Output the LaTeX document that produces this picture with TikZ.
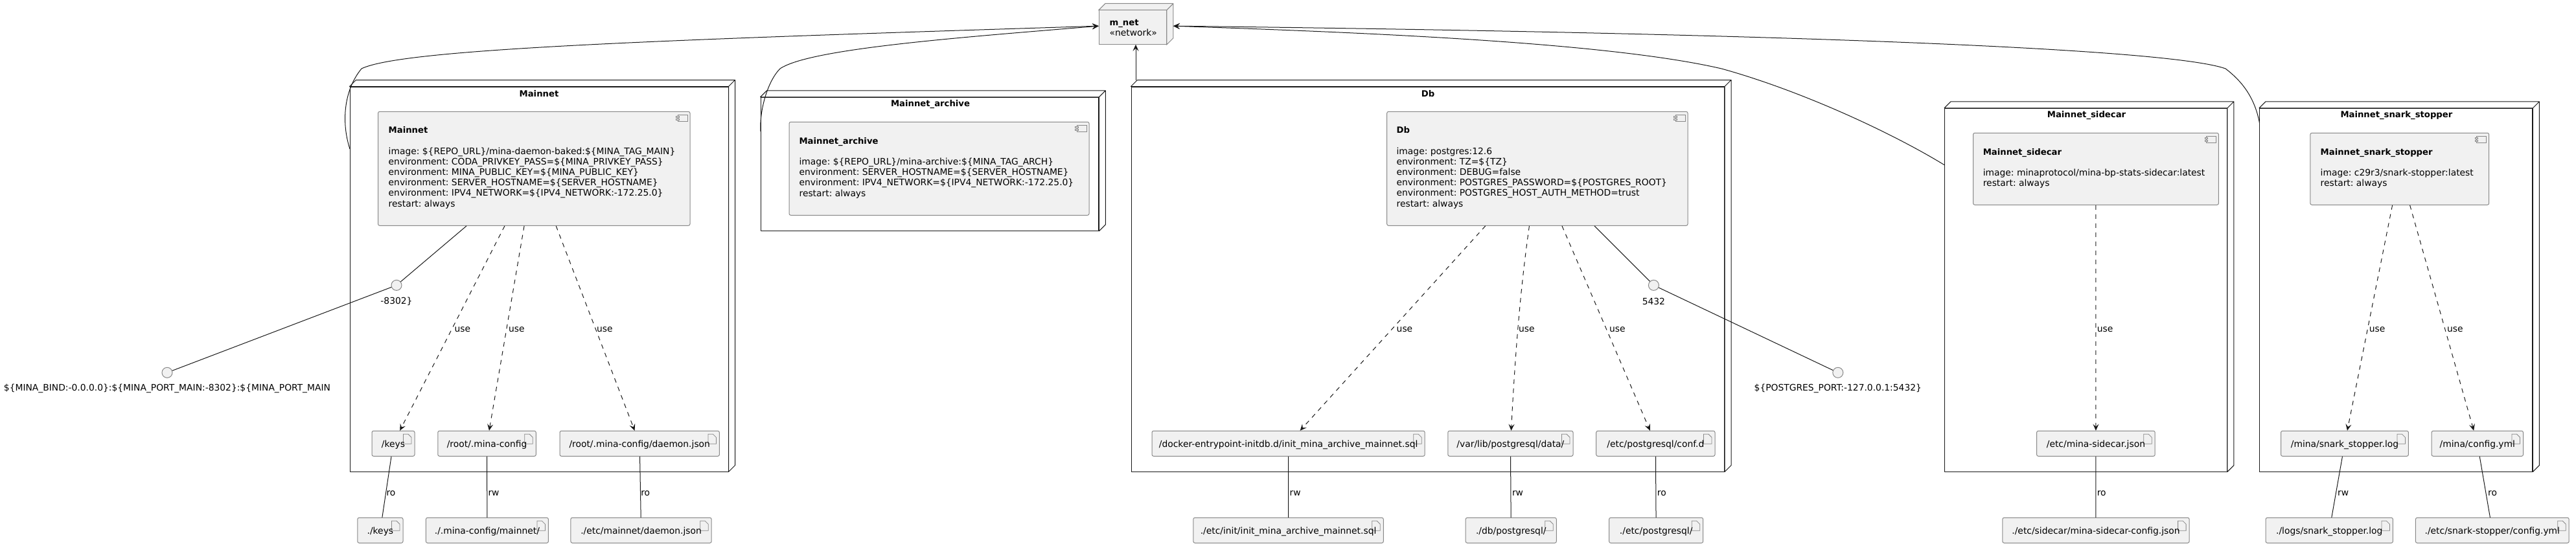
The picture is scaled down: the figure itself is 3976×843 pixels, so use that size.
\documentclass[tikz,border=0pt]{standalone}
\usepackage{fontspec}
\setmainfont{DejaVu Sans}
\usetikzlibrary{arrows.meta}

\definecolor{boxfill}{HTML}{F1F1F1}
\definecolor{linedark}{HTML}{181818}
\definecolor{linegray}{HTML}{888888}

\newcommand{\backedge}[2][white]{\draw[edgeline, fill=#1] (#2.north west) -- ++(10,-10) -- ([xshift=10pt,yshift=10pt]#2.north east) -- ([xshift=10pt,yshift=10pt]#2.south east) -- (#2.south east) -- (#2.north east) -- (#2.north west) -- cycle (#2.north east) -- ++(10,-10);}
\newcommand{\titlefont}{\fontsize{13.2}{16.2}\selectfont\bfseries}
\newcommand{\comphead}[1]{\strut{\titlefont #1}\\[16.2pt]}
\newcommand{\filetext}[1]{#1\hspace{11.6pt}}

\tikzset{
  textsize/.style={font=\fontsize{13.85}{16.2}\selectfont\frenchspacing},
  edgeline/.style={draw=linedark, line width=1pt, line join=round},
  boxnode/.style={edgeline, inner sep=0pt},
  nodetitle/.style={inner sep=0pt, font=\titlefont},
  compbox/.style={draw=linegray, line width=1pt, fill=boxfill, rounded corners=2.5pt, inner sep=0pt,
    path picture={\draw[draw=linegray, line width=0.8pt, sharp corners] ([xshift=-19pt,yshift=-5pt]path picture bounding box.north east) rectangle ++(15,10);
      \draw[draw=linegray, line width=0.8pt, fill=boxfill, sharp corners] ([xshift=-21.5pt,yshift=-7pt]path picture bounding box.north east) rectangle ++(4.5,2.5) ++(-4.5,1.5) rectangle ++(4.5,2.5);}},
  comptext/.style={textsize, inner sep=0pt, anchor=north west, align=left},
  filebox/.style={draw=linegray, line width=1pt, fill=boxfill, rounded corners=2.5pt, inner sep=0pt, minimum height=39pt, text height=12pt, text depth=0pt, textsize,
    path picture={\draw[draw=linegray, line width=0.8pt, sharp corners] ([xshift=-17.5pt,yshift=-5pt]path picture bounding box.north east) -- ++(7.5,0) -- ++(5,5) -- ++(0,10) -- ++(-12.5,0) -- cycle ++(7.5,0) -- ++(0,5) -- ++(5,0);}},
  portdot/.style={circle, draw=linegray, line width=1pt, fill=boxfill, minimum size=16pt, inner sep=0pt},
  plainlabel/.style={textsize, inner sep=0pt},
  linklabel/.style={plainlabel, anchor=west, text=black},
  link/.style={edgeline},
  uselink/.style={edgeline, dash pattern=on 7pt off 7pt, -{Stealth[length=10pt,width=9pt,inset=4pt]}},
  netlink/.style={edgeline, -{Stealth[length=10pt,width=9pt,inset=4pt]}}
}

\begin{document}
\begin{tikzpicture}[x=1pt,y=-1pt]
\useasboundingbox (0,0) rectangle (3976,843);

\node[draw=linegray, line width=1pt, fill=boxfill, inner sep=0pt, minimum width=104pt, minimum height=52.3pt] (mnet) at (1748.4,42.15) {};
\draw[draw=linegray, line width=1pt, fill=boxfill] (mnet.north west) -- ++(10,-10) -- ([xshift=10pt,yshift=10pt]mnet.north east) -- ([xshift=10pt,yshift=10pt]mnet.south east) -- (mnet.south east) -- (mnet.north east) -- (mnet.north west) -- cycle (mnet.north east) -- ++(10,-10);
\node[comptext] (mnettext) at (1712.4,27.7) {\strut{\titlefont m\_net}\\«network»};

\node[boxnode, minimum width=584pt, minimum height=594pt] (main) at (832,431) {};
\backedge{main}
\node[boxnode, minimum width=521.8pt, minimum height=206pt] (arch) at (1434.9,253.3) {};
\backedge{arch}
\node[boxnode, minimum width=915.5pt, minimum height=594pt] (db) at (2203.75,431) {};
\backedge{db}
\node[boxnode, minimum width=435.8pt, minimum height=560.7pt] (side) at (3219.5,447.65) {};
\backedge{side}
\node[boxnode, minimum width=421.4pt, minimum height=560.7pt] (stop) at (3698.2,447.65) {};
\backedge{stop}

\node[nodetitle] (maintitle) at (832,145) {Mainnet};
\node[nodetitle] (archtitle) at (1436,161) {Mainnet\_archive};
\node[nodetitle] (dbtitle) at (2204,145) {Db};
\node[nodetitle] (sidetitle) at (3220.5,178) {Mainnet\_sidecar};
\node[nodetitle] (stoptitle) at (3698.9,178) {Mainnet\_snark\_stopper};

\node[compbox, minimum width=481.5pt, minimum height=176pt] (maincomp) at (824.25,260.3) {};
\node[comptext] (maintext) at (599.5,194.2) {\comphead{Mainnet}image: \$\{REPO\_URL\}/mina-daemon-baked:\$\{MINA\_TAG\_MAIN\}\\environment: CODA\_PRIVKEY\_PASS=\$\{MINA\_PRIVKEY\_PASS\}\\environment: MINA\_PUBLIC\_KEY=\$\{MINA\_PUBLIC\_KEY\}\\environment: SERVER\_HOSTNAME=\$\{SERVER\_HOSTNAME\}\\environment: IPV4\_NETWORK=\$\{IPV4\_NETWORK:-172.25.0\}\\restart: always};
\node[compbox, minimum width=463pt, minimum height=144pt] (archcomp) at (1449.5,260.3) {};
\node[comptext] (archtext) at (1233.4,210.5) {\comphead{Mainnet\_archive}image: \$\{REPO\_URL\}/mina-archive:\$\{MINA\_TAG\_ARCH\}\\environment: SERVER\_HOSTNAME=\$\{SERVER\_HOSTNAME\}\\environment: IPV4\_NETWORK=\$\{IPV4\_NETWORK:-172.25.0\}\\restart: always};
\node[compbox, minimum width=464.3pt, minimum height=176pt] (dbcomp) at (2372.85,260.3) {};
\node[comptext] (dbtext) at (2155.4,194.2) {\comphead{Db}image: postgres:12.6\\environment: TZ=\$\{TZ\}\\environment: DEBUG=false\\environment: POSTGRES\_PASSWORD=\$\{POSTGRES\_ROOT\}\\environment: POSTGRES\_HOST\_AUTH\_METHOD=trust\\restart: always};
\node[compbox, minimum width=378.9pt, minimum height=111pt] (sidecomp) at (3234.95,260.8) {};
\node[comptext] (sidetext) at (3060.6,227.5) {\comphead{Mainnet\_sidecar}image: minaprotocol/mina-bp-stats-sidecar:latest\\restart: always};
\node[compbox, minimum width=275.9pt, minimum height=111pt] (stopcomp) at (3703.75,260.8) {};
\node[comptext] (stoptext) at (3581.5,227.5) {\comphead{Mainnet\_snark\_stopper}image: c29r3/snark-stopper:latest\\restart: always};

\node[filebox, minimum width=66pt] (keys) at (607,684.8) {\filetext{/keys}};
\node[filebox, minimum width=151.5pt] (rootcfg) at (751.55,684.8) {\filetext{/root/.mina-config}};
\node[filebox, minimum width=246.4pt] (rootjson) at (987.2,684.8) {\filetext{/root/.mina-config/daemon.json}};
\node[filebox, minimum width=70.2pt] (lockeys) at (586.9,818.8) {\filetext{./keys}};
\node[filebox, minimum width=189pt] (loccfg) at (751.9,818.8) {\filetext{./.mina-config/mainnet/}};
\node[filebox, minimum width=217.3pt] (locjson) at (989.55,818.8) {\filetext{./etc/mainnet/daemon.json}};

\node[filebox, minimum width=421.2pt] (dbinit) at (1988.6,684.8) {\filetext{/docker-entrypoint-initdb.d/init\_mina\_archive\_mainnet.sql}};
\node[filebox, minimum width=193.2pt] (dbdata) at (2331.4,684.8) {\filetext{/var/lib/postgresql/data/}};
\node[filebox, minimum width=183.3pt] (dbconf) at (2555.35,684.8) {\filetext{/etc/postgresql/conf.d}};
\node[filebox, minimum width=293.5pt] (locinit) at (1988.55,818.8) {\filetext{./etc/init/init\_mina\_archive\_mainnet.sql}};
\node[filebox, minimum width=140.1pt] (locdata) at (2332.25,818.8) {\filetext{./db/postgresql/}};
\node[filebox, minimum width=145.1pt] (locconf) at (2556.15,818.8) {\filetext{./etc/postgresql/}};

\node[filebox, minimum width=182.6pt] (sidecfg) at (3234.9,684.8) {\filetext{/etc/mina-sidecar.json}};
\node[filebox, minimum width=288.3pt] (locside) at (3234.95,818.8) {\filetext{./etc/sidecar/mina-sidecar-config.json}};
\node[filebox, minimum width=196.9pt] (stoplog) at (3618.95,684.8) {\filetext{/mina/snark\_stopper.log}};
\node[filebox, minimum width=141.4pt] (stopcfg) at (3823.8,684.8) {\filetext{/mina/config.yml}};
\node[filebox, minimum width=196.3pt] (loclog) at (3595.25,818.8) {\filetext{./logs/snark\_stopper.log}};
\node[filebox, minimum width=236.8pt] (locstop) at (3846.8,818.8) {\filetext{./etc/snark-stopper/config.yml}};

\node[portdot] (mainport) at (612,440.4) {};
\node[plainlabel] (mainportlabel) at (612,465.7) {-8302\}};
\node[portdot] (mainbind) at (258,575.3) {};
\node[plainlabel] (mainbindlabel) at (258,600.3) {\$\{MINA\_BIND:-0.0.0.0\}:\$\{MINA\_PORT\_MAIN:-8302\}:\$\{MINA\_PORT\_MAIN};
\node[portdot] (dbport) at (2552.4,440.4) {};
\node[plainlabel] (dbportlabel) at (2552.4,465.7) {5432};
\node[portdot] (dbbind) at (2836.8,575.3) {};
\node[plainlabel] (dbbindlabel) at (2836.8,600.3) {\$\{POSTGRES\_PORT:-127.0.0.1:5432\}};

\coordinate (mnetleft) at ([yshift=2pt]mnet.west);
\coordinate (mnetright) at ([xshift=10pt,yshift=2pt]mnet.east);
\coordinate (mainout) at (540,230);
\coordinate (archout) at (1174,203);
\coordinate (dbout) at (1753,124);
\coordinate (sideout) at (3001.6,255);
\coordinate (stopout) at (3487.5,190);

\draw[netlink] (mainout) .. controls (527,190) and (530,140) .. (558,106) .. controls (620,76) and (1000,62) .. (mnetleft);
\draw[netlink] (archout) .. controls (1172,170) and (1185,125) .. (1204,106) .. controls (1250,75) and (1480,58) .. (mnetleft);
\draw[netlink] (dbout) -- (dbout |- mnet.south);
\draw[netlink] (sideout) .. controls (2920,205) and (2780,140) .. (2657,106) .. controls (2480,65) and (2100,50) .. (mnetright);
\draw[netlink] (stopout) .. controls (3480,150) and (3460,125) .. (3435,106) .. controls (3340,72) and (2650,50) .. (mnetright);

\draw[link] (maincomp) -- (mainport);
\draw[link] (mainport) -- (mainbind);
\draw[link] (dbcomp) -- (dbport);
\draw[link] (dbport) -- (dbbind);

\draw[uselink] (maincomp) -- (keys) node[linklabel] (usekeys) at (701,509) {use};
\draw[uselink] (maincomp) -- (rootcfg) node[linklabel] (usecfg) at (784.5,509) {use};
\draw[uselink] (maincomp) -- (rootjson) node[linklabel] (usejson) at (920.6,509) {use};
\draw[uselink] (dbcomp) -- (dbinit) node[linklabel] (useinit) at (2155.2,509) {use};
\draw[uselink] (dbcomp) .. controls (2349,430) and (2340,520) .. (dbdata) node[linklabel] (usedata) at (2343.5,509) {use};
\draw[uselink] (dbcomp) -- (dbconf) node[linklabel] (useconf) at (2483.6,509) {use};
\draw[uselink] (sidecomp) -- (sidecfg) node[linklabel] (useside) at (3236.3,509) {use};
\draw[uselink] (stopcomp) -- (stoplog) node[linklabel] (uselog) at (3656.3,509) {use};
\draw[uselink] (stopcomp) -- (stopcfg) node[linklabel] (usestop) at (3776.5,509) {use};

\draw[link] (keys) -- (lockeys) node[linklabel] (rokeys) at (596,762) {ro};
\draw[link] (rootcfg) -- (loccfg) node[linklabel] (rwcfg) at (753,762) {rw};
\draw[link] (rootjson) -- (locjson) node[linklabel] (rojson) at (988.8,762) {ro};
\draw[link] (dbinit) -- (locinit) node[linklabel] (rwinit) at (1990.2,762) {rw};
\draw[link] (dbdata) -- (locdata) node[linklabel] (rwdata) at (2333.5,762) {rw};
\draw[link] (dbconf) -- (locconf) node[linklabel] (roconf) at (2557.4,762) {ro};
\draw[link] (sidecfg) -- (locside) node[linklabel] (roside) at (3236.3,762) {ro};
\draw[link] (stoplog) -- (loclog) node[linklabel] (rwlog) at (3607.6,762) {rw};
\draw[link] (stopcfg) -- (locstop) node[linklabel] (rostop) at (3839.6,762) {ro};
\end{tikzpicture}
\end{document}
